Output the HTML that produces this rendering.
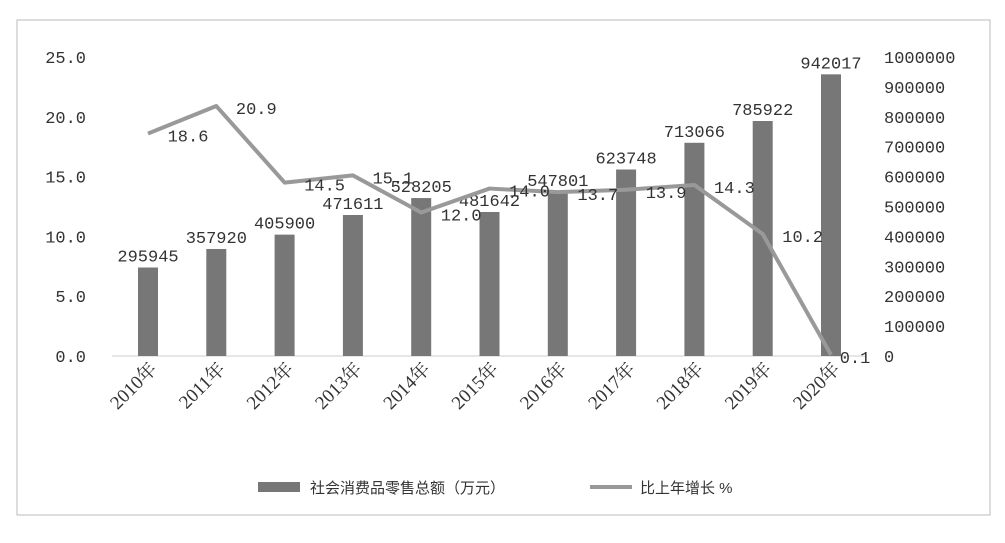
<!DOCTYPE html>
<html><head><meta charset="utf-8"><style>
body{margin:0;background:#fff;}
svg{display:block;font-family:"Liberation Mono","Noto Sans CJK SC",monospace;}
</style></head><body>
<svg width="1005" height="543" viewBox="0 0 1005 543">
<rect x="17" y="20" width="973" height="495" fill="#fff" stroke="#bbb"/>
<g id="g"></g>
<g>
<rect x="258" y="482" width="42" height="10" fill="#777"/>
<text x="310" y="493" font-size="15" fill="#333" font-family="Liberation Sans, Noto Sans CJK SC, sans-serif">社会消费品零售总额（万元）</text>
<line x1="590" y1="487" x2="632" y2="487" stroke="#999" stroke-width="4"/>
<text x="640" y="493" font-size="15" fill="#333" font-family="Liberation Sans, Noto Sans CJK SC, sans-serif">比上年增长 %</text>
</g>
</svg>
<script>
const categories=["2010年","2011年","2012年","2013年","2014年","2015年","2016年","2017年","2018年","2019年","2020年"];
const salesValues=[295945,357920,405900,471611,528205,481642,547801,623748,713066,785922,942017];
const growthValues=[18.6,20.9,14.5,15.1,12.0,14.0,13.7,13.9,14.3,10.2,0.1];
const leftTicks=[0,5,10,15,20,25];
const rightTicks=[0,100000,200000,300000,400000,500000,600000,700000,800000,900000,1000000];
const NS="http://www.w3.org/2000/svg";
const g=document.getElementById("g");
const y0=356, yTop=57;
const yL=v=>y0-(v/25)*(y0-yTop);
const yR=v=>y0-(v/1000000)*(y0-yTop);
const xC=i=>148+i*68.3;
function mk(t,a){const e=document.createElementNS(NS,t);for(const k in a)e.setAttribute(k,a[k]);g.appendChild(e);return e;}
leftTicks.forEach(v=>{const t=mk("text",{x:86,y:yL(v)+6,"text-anchor":"end","font-size":17,fill:"#333"});t.textContent=v.toFixed(1);

});
rightTicks.forEach(v=>{const t=mk("text",{x:884,y:yR(v)+6,"font-size":17,fill:"#333"});t.textContent=String(v);

});
const ax=mk("line",{x1:112,y1:y0,x2:866,y2:y0,stroke:"#ccc"});


salesValues.forEach((v,i)=>{
 const r=mk("rect",{x:xC(i)-10,y:yR(v),width:20,height:y0-yR(v),fill:"#777"});
 
 
 const t=mk("text",{x:xC(i),y:yR(v)-6,"text-anchor":"middle","font-size":17,fill:"#333"});t.textContent=v;
 
 
 const c=mk("text",{x:xC(i)+10,y:370,"text-anchor":"end","font-size":19,fill:"#333","font-family":"Liberation Serif, Noto Serif CJK SC, serif",transform:`rotate(-45 ${xC(i)+10} 370)`});c.textContent=categories[i];
 
 
});
const pl=mk("polyline",{points:growthValues.map((v,i)=>xC(i)+","+yL(v)).join(" "),fill:"none",stroke:"#999","stroke-width":4,"stroke-linejoin":"round"});


growthValues.forEach((v,i)=>{
 const dx=i===growthValues.length-1?24:40;
 const t=mk("text",{x:xC(i)+dx,y:yL(v)+8,"text-anchor":"middle","font-size":17,fill:"#333"});t.textContent=v.toFixed(1);
 
 
});
</script>
</body></html>
